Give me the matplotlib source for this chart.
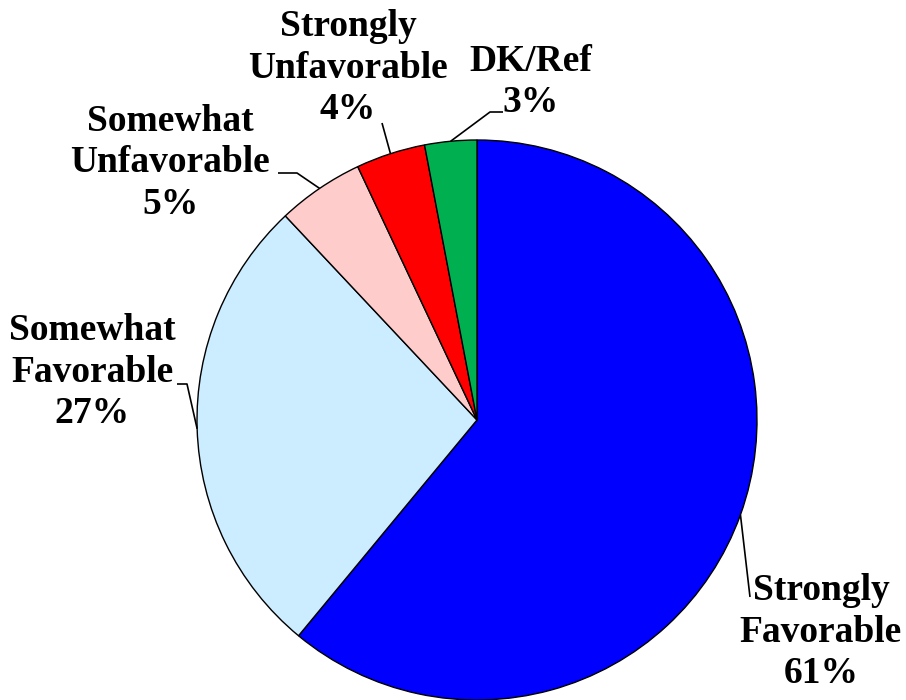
import numpy as np
import matplotlib.pyplot as plt

# ---------------- data ----------------
labels = ["Strongly\nFavorable", "Somewhat\nFavorable", "Somewhat\nUnfavorable",
          "Strongly\nUnfavorable", "DK/Ref"]
values = [61, 27, 5, 4, 3]
colors = ["#0000FF", "#CCECFF", "#FFCCCC", "#FF0000", "#00B050"]

# ---------------- layout (pixel coords, y from top) ----------------
W, H = 906, 700
CENTER = (477, 420)
RADIUS = 280
label_pos = [(821, 632), (92, 372), (170, 163), (348, 68), (531, 82)]
# leader line points after the wedge edge point
leader_pts = [
    [(750, 597)],
    [(187, 384), (177, 384)],
    [(297, 173), (278, 173)],
    [(382, 123)],
    [(490, 112), (503, 112)],
]

fig = plt.figure(figsize=(W / 100, H / 100), dpi=100)
ax = fig.add_axes([0, 0, 1, 1])
ax.set_xlim(0, W)
ax.set_ylim(0, H)
ax.set_aspect("equal")
ax.axis("off")

cx, cy = CENTER[0], H - CENTER[1]
wedges, _ = ax.pie(values, colors=colors, startangle=90, counterclock=False,
                   center=(cx, cy), radius=RADIUS,
                   wedgeprops=dict(edgecolor="black", linewidth=1.0))
ax.set_xlim(0, W)
ax.set_ylim(0, H)

for w, lab, val, (lx, ly), pts in zip(wedges, labels, values, label_pos, leader_pts):
    mid = np.deg2rad((w.theta1 + w.theta2) / 2)
    ex, ey = cx + RADIUS * np.cos(mid), cy + RADIUS * np.sin(mid)
    xs = [ex] + [p[0] for p in pts]
    ys = [ey] + [H - p[1] for p in pts]
    ax.plot(xs, ys, color="black", linewidth=1.2, solid_capstyle="butt")
    ax.text(lx, H - ly, f"{lab}\n{val}%", ha="center", va="center",
            fontsize=27, fontweight="bold", family="Liberation Serif",
            linespacing=1.25)

fig.savefig("out.png", dpi=100)
